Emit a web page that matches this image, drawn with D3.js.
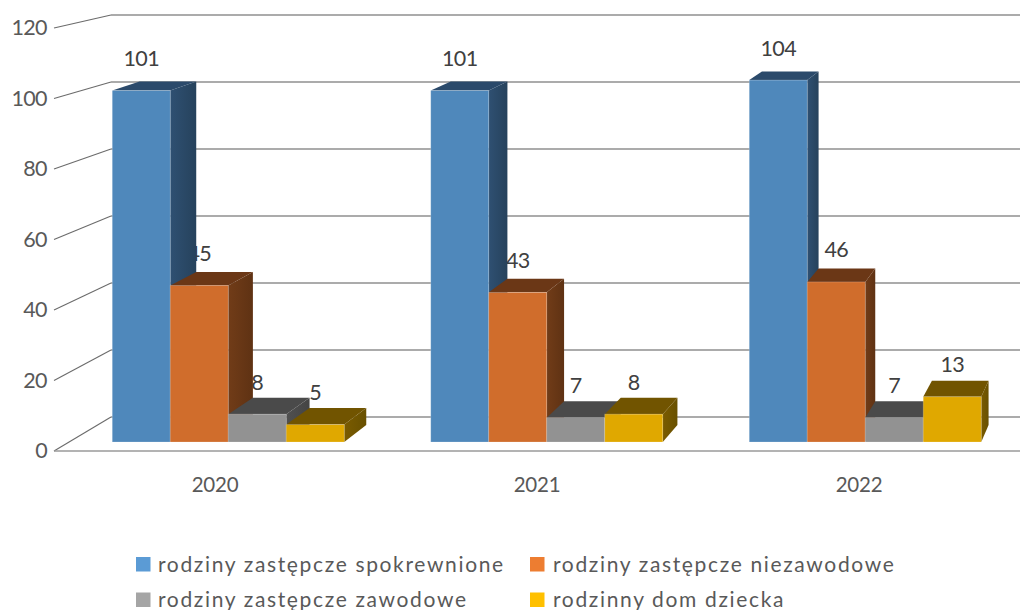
<!DOCTYPE html>
<html>
<head>
<meta charset="utf-8">
<script src="https://cdn.jsdelivr.net/npm/d3@7"></script>
<style>
    html, body { margin: 0; padding: 0; background: #fff; overflow: hidden; }
    text { font-family: Lato, "Open Sans", sans-serif; }
</style>
</head>
<body>
<svg width="1020" height="610"></svg>
<script>
const years = ["2020", "2021", "2022"];
const seriesNames = [
    "rodziny zastępcze spokrewnione",
    "rodziny zastępcze niezawodowe",
    "rodziny zastępcze zawodowe",
    "rodzinny dom dziecka"
];
const spokrewnione = [101, 101, 104];
const niezawodowe = [45, 43, 46];
const zawodowe = [8, 7, 7];
const domDziecka = [5, 8, 13];
const yTicks = [0, 20, 40, 60, 80, 100, 120];

const seriesValues = [spokrewnione, niezawodowe, zawodowe, domDziecka];
const legendColors = ["#5b9bd5", "#ed7d31", "#a5a5a5", "#ffc000"];
const frontColors = ["#4f88bb", "#d06d2c", "#929292", "#e0a800"];
const topColors = ["#2b4a6b", "#6b3716", "#4a4a4a", "#715400"];
const sideLight = ["#2f5072", "#713c18", "#505050", "#7a5b00"];
const sideDark = ["#26425c", "#5f3213", "#444444", "#685000"];

const svg = d3.select("svg");

// y scales: front of the floor, back wall, and the plane the bars stand in
const yFront = d3.scaleLinear().domain([0, 120]).range([451, 28]);
const yBack = d3.scaleLinear().domain([0, 120]).range([417, 15]);
const yBar = d3.scaleLinear().domain([0, 120]).range([442, 24.4]);

const xLabels = d3.scaleBand().domain(years).range([54, 1020]);
const xBars = d3.scaleBand().domain(years).range([69.25, 1024.75]);
const xInner = d3.scaleBand().domain(d3.range(4)).range([43, 275]);

// one point pushed back towards the vanishing point
const vanish = [1300, -297];
const depth = 0.023;
function back(p) {
    return [p[0] + (vanish[0] - p[0]) * depth, p[1] + (vanish[1] - p[1]) * depth];
}

// gradients for the side faces
const defs = svg.append("defs");
seriesNames.forEach(function (s, i) {
    const g = defs.append("linearGradient").attr("id", "side" + i);
    g.append("stop").attr("offset", "0%").attr("stop-color", sideLight[i]);
    g.append("stop").attr("offset", "100%").attr("stop-color", sideDark[i]);
});

// walls
const grid = svg.append("g").attr("class", "grid");
grid.selectAll("line.wall")
    .data(yTicks)
    .enter().append("line")
    .attr("class", "wall")
    .attr("x1", 54)
    .attr("y1", function (d) { return yFront(d); })
    .attr("x2", 111)
    .attr("y2", function (d) { return yBack(d); })
    .attr("stroke", "#6b6b6b")
    .attr("stroke-width", 1.1);
grid.selectAll("line.back")
    .data(yTicks)
    .enter().append("line")
    .attr("class", "back")
    .attr("x1", 111)
    .attr("y1", function (d) { return yBack(d); })
    .attr("x2", 1020)
    .attr("y2", function (d) { return yBack(d); })
    .attr("stroke", "#8f8f8f")
    .attr("stroke-width", 1.3);
grid.append("line")
    .attr("x1", 54).attr("y1", yFront(0))
    .attr("x2", 1020).attr("y2", yFront(0))
    .attr("stroke", "#9a9a9a")
    .attr("stroke-width", 1.3);

// axes
const yAxis = svg.append("g")
    .attr("transform", "translate(47,0)")
    .call(d3.axisLeft(yFront).tickValues(yTicks).tickSize(0).tickPadding(0));
yAxis.select(".domain").remove();
yAxis.selectAll("text")
    .attr("font-size", 21.5)
    .attr("letter-spacing", -0.6)
    .attr("fill", "#595959");

const xAxis = svg.append("g")
    .attr("transform", "translate(0,451)")
    .call(d3.axisBottom(xLabels).tickSize(0).tickPadding(26));
xAxis.select(".domain").remove();
xAxis.selectAll("text")
    .attr("font-size", 20.5)
    .attr("letter-spacing", -0.2)
    .attr("fill", "#595959");

// flatten series into bars
const bars = [];
years.forEach(function (year, c) {
    seriesValues.forEach(function (values, s) {
        const x0 = xBars(year) + xInner(s);
        bars.push({
            s: s,
            value: values[c],
            x0: x0,
            x1: x0 + xInner.bandwidth(),
            top: yBar(values[c]),
            base: yBar(0)
        });
    });
});

function poly(points) {
    return points.map(function (p) { return p[0] + "," + p[1]; }).join(" ");
}

// the labels sit behind the columns, taller neighbours hide parts of them
svg.append("g").selectAll("text")
    .data(bars)
    .enter().append("text")
    .attr("x", function (d) { return (d.x0 + d.x1) / 2; })
    .attr("y", function (d) { return d.top - 32; })
    .attr("dy", "0.35em")
    .attr("text-anchor", "middle")
    .attr("font-size", 21.5)
    .attr("letter-spacing", -0.6)
    .attr("fill", "#404040")
    .text(function (d) { return d.value; });

// left to right so that each bar covers the side of the one before
const bar = svg.append("g").selectAll("g")
    .data(bars)
    .enter().append("g");

bar.append("polygon")
    .attr("fill", function (d) { return "url(#side" + d.s + ")"; })
    .attr("points", function (d) {
        return poly([[d.x1, d.top], back([d.x1, d.top]), back([d.x1, d.base]), [d.x1, d.base]]);
    });
bar.append("polygon")
    .attr("fill", function (d) { return topColors[d.s]; })
    .attr("points", function (d) {
        return poly([[d.x0, d.top], back([d.x0, d.top]), back([d.x1, d.top]), [d.x1, d.top]]);
    });
bar.append("rect")
    .attr("x", function (d) { return d.x0; })
    .attr("y", function (d) { return d.top; })
    .attr("width", function (d) { return d.x1 - d.x0; })
    .attr("height", function (d) { return d.base - d.top; })
    .attr("fill", function (d) { return frontColors[d.s]; })
    .attr("stroke", "#ffffff")
    .attr("stroke-opacity", 0.25)
    .attr("stroke-width", 0.8);

// legend
const legendX = [136, 530];
const legendTextX = [22, 23];
const legendY = [564.5, 600];
const legend = svg.append("g").selectAll("g")
    .data(seriesNames)
    .enter().append("g")
    .attr("transform", function (d, i) {
        return "translate(" + legendX[i % 2] + "," + legendY[Math.floor(i / 2)] + ")";
    });
legend.append("rect")
    .attr("x", 0)
    .attr("y", -7.5)
    .attr("width", 14.5)
    .attr("height", 14.5)
    .attr("fill", function (d, i) { return legendColors[i]; });
legend.append("text")
    .attr("x", function (d, i) { return legendTextX[i % 2]; })
    .attr("dy", "0.35em")
    .attr("font-size", 21)
    .attr("letter-spacing", 1.65)
    .attr("fill", "#595959")
    .text(function (d) { return d; });
</script>
</body>
</html>
